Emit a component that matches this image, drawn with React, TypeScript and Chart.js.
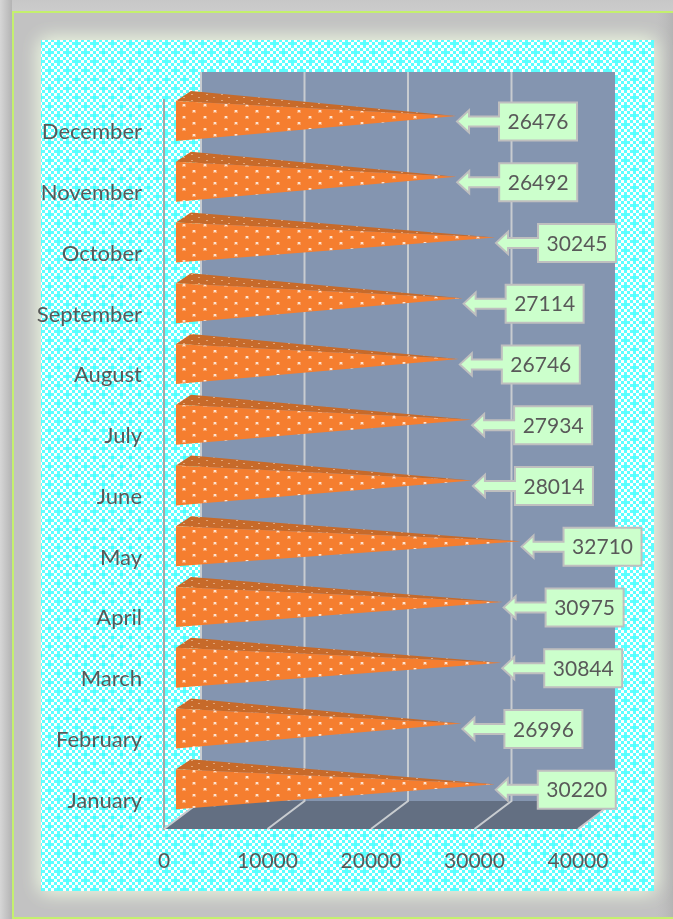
import React, { useEffect, useRef } from "react";
import { Chart, registerables } from "chart.js";

Chart.register(...registerables);

const months = ["January", "February", "March", "April", "May", "June", "July", "August", "September", "October", "November", "December"];
const values = [30220, 26996, 30844, 30975, 32710, 28014, 27934, 26746, 27114, 30245, 26492, 26476];
const xTicks = [0, 10000, 20000, 30000, 40000];

const FONT = "Lato, 'Open Sans', sans-serif";
const TEXT = "#595959";

function makeTile(w: number, h: number, paint: (c: CanvasRenderingContext2D) => void) {
  const t = document.createElement("canvas");
  t.width = w;
  t.height = h;
  paint(t.getContext("2d")!);
  return t;
}

const framePlugin = {
  id: "frame",
  beforeDraw(chart: any) {
    chart.scales.y.getLabelItems().forEach((it: any) => {
      if (!it.options.nudged) {
        it.options.translation[1] += 2;
        it.options.nudged = true;
      }
    });
    const c: CanvasRenderingContext2D = chart.ctx;
    const W = chart.width, H = chart.height;
    c.save();
    c.fillStyle = "#C2C2C2";
    c.fillRect(0, 0, W, H);
    let g = c.createLinearGradient(0, 0, 12, 0);
    g.addColorStop(0, "#D6D6D6");
    g.addColorStop(1, "#B4B4B4");
    c.fillStyle = g;
    c.fillRect(0, 0, 12, H);
    g = c.createLinearGradient(0, 0, 0, 12);
    g.addColorStop(0, "rgba(200,200,200,0.9)");
    g.addColorStop(1, "rgba(205,205,205,0.9)");
    c.fillStyle = g;
    c.fillRect(12, 0, W, 12);
    g = c.createLinearGradient(655, 0, 673, 0);
    g.addColorStop(0, "rgba(190,190,190,0)");
    g.addColorStop(1, "#B4B4B4");
    c.fillStyle = g;
    c.fillRect(655, 12, 18, H);

    c.strokeStyle = "#C4F06E";
    c.lineWidth = 2;
    c.beginPath();
    c.moveTo(W, 12);
    c.lineTo(13, 12);
    c.lineTo(13, 918);
    c.lineTo(W, 918);
    c.stroke();

    const pattern = c.createPattern(
      makeTile(18, 18, (t) => {
        t.fillStyle = "#FFFFFF";
        t.fillRect(0, 0, 18, 18);
        t.fillStyle = "#5CFFFF";
        for (let i = 0; i < 6; i++) {
          for (let j = 0; j < 6; j++) {
            if ((i + j) % 2 === 0) t.fillRect(i * 3, j * 3, 3, 3);
          }
        }
        t.fillRect(3, 6, 3, 3);
        t.fillRect(12, 15, 3, 3);
      }),
      "repeat"
    )!;
    c.save();
    c.shadowColor = "#E6F0DC";
    c.shadowBlur = 18;
    c.fillStyle = "#FFFFFF";
    c.fillRect(41, 40, 613, 851);
    c.fillRect(41, 40, 613, 851);
    c.restore();
    c.fillStyle = pattern;
    c.fillRect(41, 40, 613, 851);
    c.restore();
  },
  beforeDatasetsDraw(chart: any) {
    const c: CanvasRenderingContext2D = chart.ctx;
    const { x: xs } = chart.scales;
    const { bottom, left, right } = chart.chartArea;
    const dx = 37, dy = -28, wallTop = 72;
    c.save();
    c.fillStyle = "#8495B0";
    c.fillRect(left + dx, wallTop, right - left, bottom + dy - wallTop);
    c.fillStyle = "#636F82";
    c.beginPath();
    c.moveTo(left, bottom);
    c.lineTo(right, bottom);
    c.lineTo(right + dx, bottom + dy);
    c.lineTo(left + dx, bottom + dy);
    c.closePath();
    c.fill();
    c.strokeStyle = "#C8CCD0";
    c.lineWidth = 2;
    for (const v of xTicks) {
      const px = xs.getPixelForValue(v);
      c.beginPath();
      if (v !== 40000) {
        c.moveTo(px + dx, wallTop);
        c.lineTo(px + dx, bottom + dy);
      } else {
        c.moveTo(px + dx, bottom + dy);
      }
      c.lineTo(px, bottom);
      c.stroke();
    }
    c.restore();
  },
  afterDatasetsDraw(chart: any) {
    const c: CanvasRenderingContext2D = chart.ctx;
    const meta = chart.getDatasetMeta(0);
    const dotFront = c.createPattern(
      makeTile(21, 12, (t) => {
        t.fillStyle = "rgba(255,235,220,0.35)";
        t.fillRect(3, 2, 4, 3);
        t.fillRect(14, 8, 4, 3);
        t.fillStyle = "rgba(255,240,228,0.85)";
        t.fillRect(4, 2, 2, 2);
        t.fillRect(15, 8, 2, 2);
      }),
      "repeat"
    )!;
    const dotTop = c.createPattern(
      makeTile(15, 6, (t) => {
        t.fillStyle = "rgba(255,225,200,0.5)";
        t.fillRect(3, 1, 2, 1);
        t.fillRect(11, 4, 2, 1);
      }),
      "repeat"
    )!;
    const ox = 12, tipShift = 6, cy = -9.5;
    meta.data.forEach((bar: any, i: number) => {
      const base = bar.base + ox;
      const tipX = bar.x + ox + tipShift;
      const mid = bar.y + cy;
      const t = mid - 20, b = mid + 20, tipY = mid - 5;
      c.save();
      c.beginPath();
      c.moveTo(base, t);
      c.lineTo(base + 15, t - 10);
      c.lineTo(tipX, tipY);
      c.closePath();
      c.fillStyle = "#C76A2A";
      c.fill();
      c.fillStyle = dotTop;
      c.fill();
      c.beginPath();
      c.moveTo(base, t);
      c.lineTo(tipX, tipY);
      c.lineTo(base, b);
      c.closePath();
      c.fillStyle = "#F57E2F";
      c.fill();
      c.fillStyle = dotFront;
      c.fill();
      c.restore();

      const ax = tipX + 1, bl = tipX + 43, br = tipX + 121, by = mid + 0.5, bh = 19;
      c.save();
      c.beginPath();
      c.moveTo(ax, by);
      c.lineTo(ax + 12, by - 11);
      c.lineTo(ax + 12, by - 5);
      c.lineTo(bl, by - 5);
      c.lineTo(bl, by - bh);
      c.lineTo(br, by - bh);
      c.lineTo(br, by + bh);
      c.lineTo(bl, by + bh);
      c.lineTo(bl, by + 5);
      c.lineTo(ax + 12, by + 5);
      c.lineTo(ax + 12, by + 11);
      c.closePath();
      c.fillStyle = "#CCFFCC";
      c.fill();
      c.strokeStyle = "#BFBFBF";
      c.lineWidth = 2;
      c.stroke();
      c.fillStyle = TEXT;
      c.font = `21px ${FONT}`;
      c.textAlign = "center";
      c.textBaseline = "middle";
      c.fillText(String(values[i]), (bl + br) / 2, by + 1);
      c.restore();
    });
  },
};

export default function App() {
  const ref = useRef<HTMLCanvasElement>(null);
  useEffect(() => {
    const chart = new Chart(ref.current!, {
      type: "bar",
      plugins: [framePlugin],
      data: {
        labels: months,
        datasets: [
          {
            label: "Value",
            data: values,
            backgroundColor: "rgba(0,0,0,0)",
            borderWidth: 0,
            categoryPercentage: 1,
            barPercentage: 0.66,
          },
        ],
      },
      options: {
        indexAxis: "y",
        animation: false,
        responsive: false,
        layout: { padding: { left: 0, top: 100, right: 95, bottom: 0 } },
        plugins: { legend: { display: false }, tooltip: { enabled: false }, title: { display: false } },
        scales: {
          x: {
            type: "linear",
            min: 0,
            max: 40000,
            afterFit: (s: any) => { s.height = 90; },
            afterBuildTicks: (s: any) => { s.ticks = xTicks.map((value) => ({ value })); },
            grid: { display: false, drawTicks: false },
            border: { display: false },
            ticks: {
              padding: 20,
              maxRotation: 0,
              color: TEXT,
              font: { family: FONT, size: 21 },
              callback: (v: any) => String(v),
            },
          },
          y: {
            type: "category",
            reverse: true,
            afterFit: (s: any) => { s.width = 164; },
            grid: { display: false, drawTicks: false },
            border: { display: true, color: "#A6A6A6", width: 2 },
            ticks: { padding: 22, autoSkip: false, color: TEXT, font: { family: FONT, size: 22 } },
          },
        },
      },
    } as any);
    return () => chart.destroy();
  }, []);
  return (
    <div style={{ position: "absolute", left: 0, top: 0, width: 673, height: 919, overflow: "hidden" }}>
      <canvas ref={ref} width={673} height={919} style={{ display: "block" }} />
    </div>
  );
}
